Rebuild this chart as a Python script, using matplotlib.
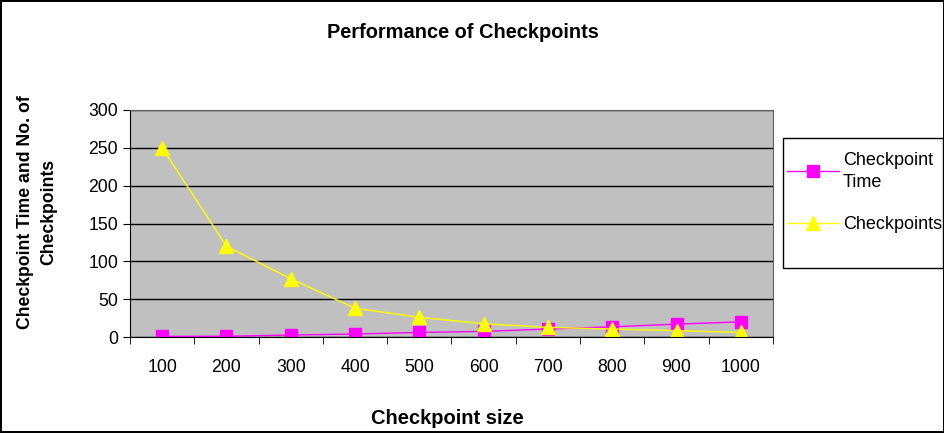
import matplotlib
matplotlib.use('Agg')
import matplotlib.pyplot as plt
import numpy as np
from matplotlib.patches import Rectangle

plt.rcParams['font.family'] = ['Liberation Sans', 'DejaVu Sans']

sizes = ['100', '200', '300', '400', '500', '600', '700', '800', '900', '1000']
checkpoint_time = [0.8, 1, 2.6, 4, 6, 7.4, 10.5, 13.5, 17, 20]
checkpoints = [250, 120, 77, 38, 26, 17.5, 12.7, 10.5, 8.3, 6]

W, H = 945, 433
fig = plt.figure(figsize=(9.45, 4.33), dpi=100)
fig.patch.set_edgecolor('black')
fig.patch.set_linewidth(1.5)
ax = fig.add_axes([130 / W, 1 - 337 / H, 643 / W, 227 / H])
ax.set_facecolor('#C0C0C0')

x = np.arange(len(sizes))
ax.plot(x, checkpoint_time, color='#FF00FF', marker='s', markersize=8.5,
        markeredgecolor='#FF00FF', linewidth=1, label='Checkpoint\nTime')
ax.plot(x, checkpoints, color='#FFFF00', marker='^', markersize=10,
        markeredgecolor='#FFFF00', linewidth=1, label='Checkpoints')

ax.set_xlim(-0.5, len(sizes) - 0.5)
ax.set_ylim(0, 300)
ax.set_yticks(range(0, 301, 50))
ax.yaxis.grid(True, color='black', linewidth=1)
ax.set_axisbelow(True)
ax.set_xticks(x)
ax.set_xticklabels(sizes, fontsize=12.7)
ax.set_xticks(np.arange(-0.5, len(sizes), 1), minor=True)
ax.tick_params(axis='x', which='major', length=0, pad=16)
ax.tick_params(axis='x', which='minor', length=5, direction='out')
ax.tick_params(axis='y', labelsize=12.7, length=5)
for s in ax.spines.values():
    s.set_color('#606060')
ax.spines['bottom'].set_color('black')
ax.spines['left'].set_color('black')

fig.text(447 / W, 1 - 418 / H, 'Checkpoint size', ha='center', va='center',
         fontsize=14.5, fontweight='bold')
fig.text(37 / W, 1 - 212 / H, 'Checkpoint Time and No. of\nCheckpoints',
         rotation=90, ha='center', va='center', fontsize=12.7,
         fontweight='bold', linespacing=1.45)
fig.text(463 / W, 1 - 33 / H, 'Performance of Checkpoints', ha='center',
         va='center', fontsize=14.4, fontweight='bold')

# legend box
fig.add_artist(Rectangle((783 / W, 1 - 268 / H), 160 / W, 130 / H,
                         transform=fig.transFigure, facecolor='white',
                         edgecolor='black', linewidth=1, zorder=3))
leg = fig.legend(loc='upper left', bbox_to_anchor=(787 / W, 1 - 152 / H),
                 fontsize=13, frameon=False, handlelength=2.9,
                 labelspacing=1.4, borderpad=0, borderaxespad=0,
                 handletextpad=0.2)
leg.get_texts()[0].set_linespacing(1.35)
leg.set_zorder(4)

fig.savefig('out.png', dpi=100, edgecolor=fig.get_edgecolor())
